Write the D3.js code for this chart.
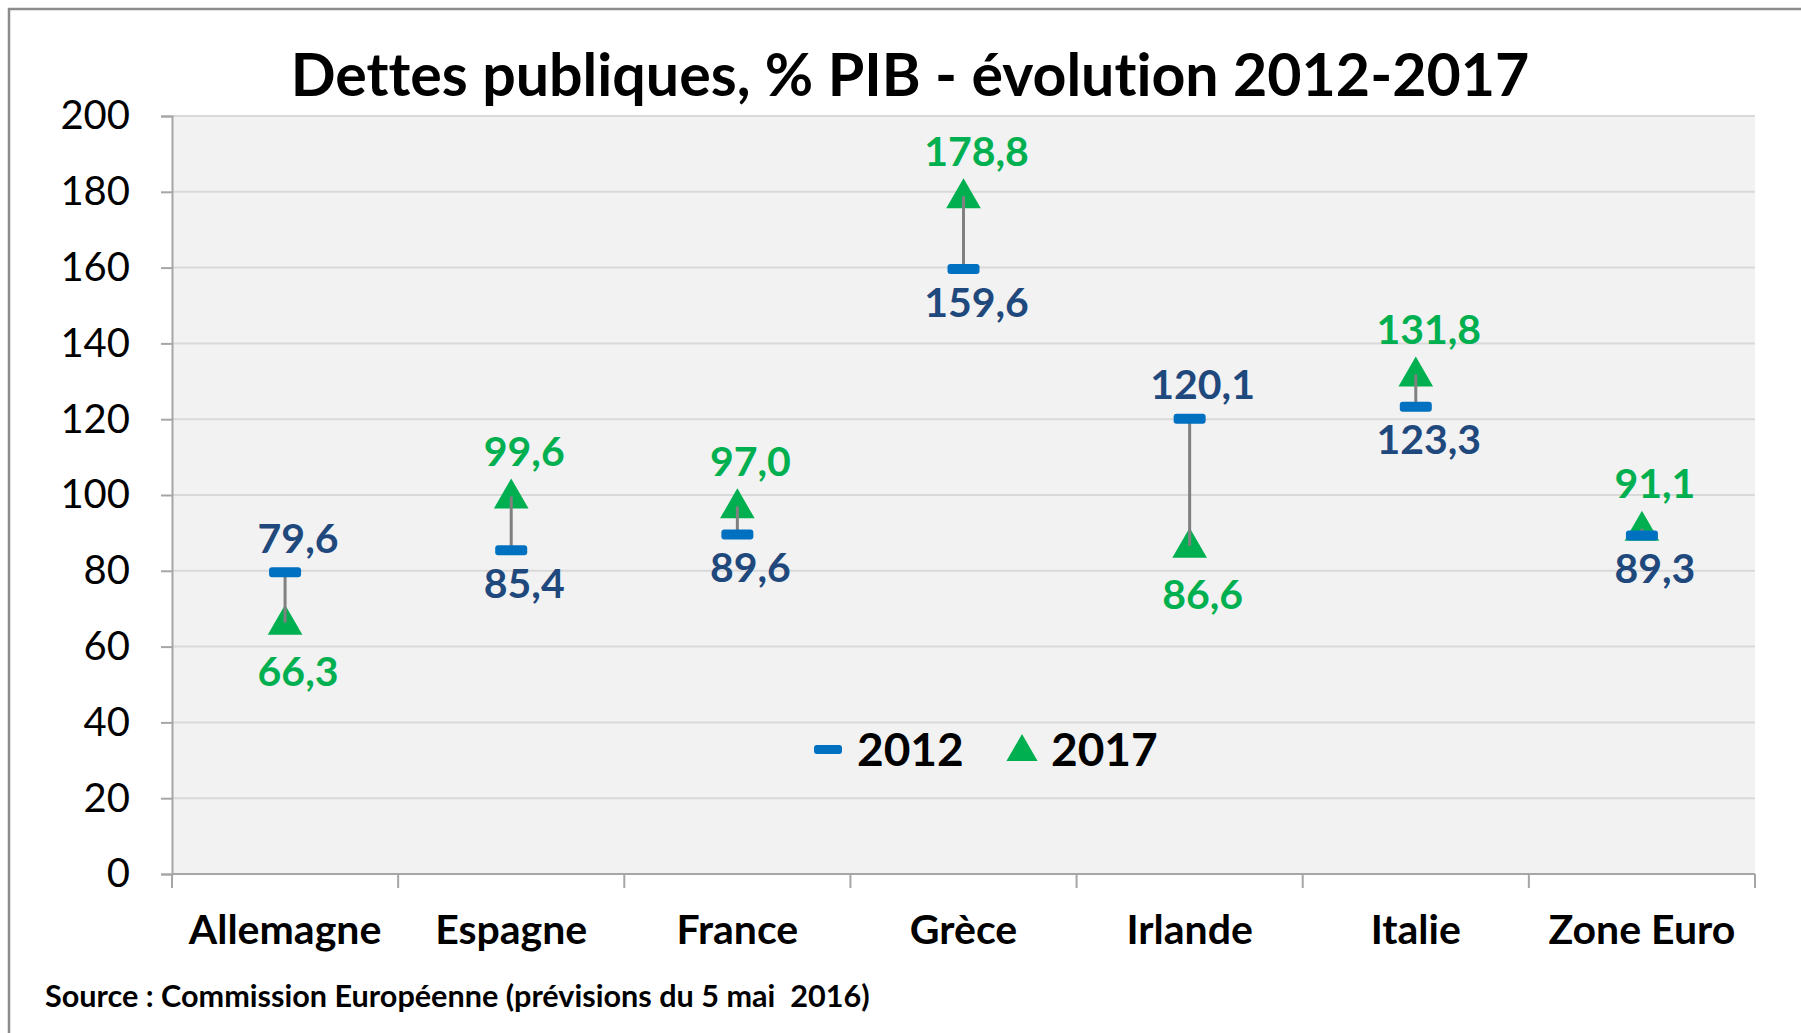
<!DOCTYPE html>
<html>
<head>
<meta charset="utf-8">
<script src="https://cdn.jsdelivr.net/npm/d3@7"></script>
<style>
  body { margin: 0; background: #fff; }
  svg { display: block; font-family: Lato, "Open Sans", sans-serif; font-variant-ligatures: none; }
</style>
</head>
<body>
<svg id="chart"></svg>
<script>
// data
const categories = ['Allemagne', 'Espagne', 'France', 'Grèce', 'Irlande', 'Italie', 'Zone Euro'];
const debt2012 = [79.6, 85.4, 89.6, 159.6, 120.1, 123.3, 89.3];
const debt2017 = [66.3, 99.6, 97.0, 178.8, 86.6, 131.8, 91.1];
const seriesNames = ['2012', '2017'];
const yTicks = [0, 20, 40, 60, 80, 100, 120, 140, 160, 180, 200];
const titleText = 'Dettes publiques, % PIB - évolution 2012-2017';
const sourceText = 'Source : Commission Européenne (prévisions du 5 mai  2016)';

const W = 1801, H = 1033;
const plot = { left: 172, right: 1755, top: 116, bottom: 874 };

const blue = '#0070c0', navy = '#1f497d', green = '#00b050';

const svg = d3.select('#chart').attr('width', W).attr('height', H);

// outer frame (right and bottom edges fall outside the picture)
svg.append('rect')
  .attr('x', 9).attr('y', 9).attr('width', W + 20).attr('height', H + 20)
  .attr('fill', '#fff').attr('stroke', '#8c8c8c').attr('stroke-width', 2.5);

const x = d3.scaleBand().domain(categories).range([plot.left, plot.right]);
const y = d3.scaleLinear().domain([0, 200]).range([plot.bottom, plot.top]);

const fr = d3.formatLocale({ decimal: ',', thousands: ' ', grouping: [3], currency: ['', ''] });
const fmt = fr.format('.1f');

// plot background
svg.append('rect')
  .attr('x', plot.left).attr('y', plot.top)
  .attr('width', plot.right - plot.left).attr('height', plot.bottom - plot.top)
  .attr('fill', '#f2f2f2');

// gridlines
svg.append('g')
  .selectAll('line')
  .data(yTicks.filter(d => d > 0))
  .join('line')
  .attr('x1', plot.left).attr('x2', plot.right)
  .attr('y1', d => y(d)).attr('y2', d => y(d))
  .attr('stroke', '#d9d9d9').attr('stroke-width', 2);

// y axis
const yAxis = svg.append('g')
  .attr('transform', `translate(${plot.left},0)`)
  .call(d3.axisLeft(y).tickValues(yTicks).tickSize(11).tickPadding(31).tickFormat(d3.format('d')));
yAxis.select('.domain').attr('stroke', '#a6a6a6').attr('stroke-width', 2);
yAxis.selectAll('.tick line').attr('stroke', '#a6a6a6').attr('stroke-width', 2);
yAxis.selectAll('.tick text')
  .attr('font-family', 'Lato, "Open Sans", sans-serif')
  .attr('font-size', 40).attr('fill', '#000');

// x axis line + ticks at category boundaries
svg.append('line')
  .attr('x1', plot.left).attr('x2', plot.right)
  .attr('y1', plot.bottom).attr('y2', plot.bottom)
  .attr('stroke', '#a6a6a6').attr('stroke-width', 2);
const bounds = categories.map(c => x(c)).concat([x(categories[categories.length - 1]) + x.bandwidth()]);
svg.append('g')
  .selectAll('line')
  .data(bounds)
  .join('line')
  .attr('x1', d => d).attr('x2', d => d)
  .attr('y1', plot.bottom).attr('y2', plot.bottom + 14)
  .attr('stroke', '#a6a6a6').attr('stroke-width', 2);

// category labels
svg.append('g')
  .selectAll('text')
  .data(categories)
  .join('text')
  .attr('x', d => x(d) + x.bandwidth() / 2)
  .attr('y', 944)
  .attr('text-anchor', 'middle')
  .attr('font-size', 41).attr('font-weight', 700).attr('fill', '#000')
  .text(d => d);

// legend (masks the gridline behind it)
const legend = svg.append('g');
legend.append('rect')
  .attr('x', 767).attr('y', 726).attr('width', 416).attr('height', 62)
  .attr('fill', '#f2f2f2');

const rows = categories.map((c, i) => ({ c, a: debt2012[i], b: debt2017[i] }));
const tri = d3.symbol().type(d3.symbolTriangle).size(520);

// 2017 triangles
svg.append('g')
  .selectAll('path')
  .data(rows)
  .join('path')
  .attr('d', tri)
  .attr('transform', d => `translate(${x(d.c) + x.bandwidth() / 2},${y(d.b) + 2})`)
  .attr('fill', green);

// high-low lines
svg.append('g')
  .selectAll('line')
  .data(rows)
  .join('line')
  .attr('x1', d => x(d.c) + x.bandwidth() / 2).attr('x2', d => x(d.c) + x.bandwidth() / 2)
  .attr('y1', d => y(d.a)).attr('y2', d => y(d.b))
  .attr('stroke', '#808080').attr('stroke-width', 3);

// 2012 dashes
svg.append('g')
  .selectAll('rect')
  .data(rows)
  .join('rect')
  .attr('x', d => x(d.c) + x.bandwidth() / 2 - 16)
  .attr('y', d => y(d.a) - 5)
  .attr('width', 32).attr('height', 10).attr('rx', 3)
  .attr('fill', blue);

// data labels: the larger value of a pair goes above, the smaller below
const dx = 13;
svg.append('g')
  .selectAll('text')
  .data(rows)
  .join('text')
  .attr('x', d => x(d.c) + x.bandwidth() / 2 + dx)
  .attr('y', d => d.a >= d.b ? y(d.a) - 35 : y(d.a) + 32)
  .attr('dominant-baseline', 'central')
  .attr('text-anchor', 'middle')
  .attr('font-size', 41).attr('font-weight', 700).attr('fill', navy)
  .text(d => fmt(d.a));

svg.append('g')
  .selectAll('text')
  .data(rows)
  .join('text')
  .attr('x', d => x(d.c) + x.bandwidth() / 2 + dx)
  .attr('y', d => d.b > d.a ? y(d.b) - 46 : y(d.b) + 48)
  .attr('dominant-baseline', 'central')
  .attr('text-anchor', 'middle')
  .attr('font-size', 41).attr('font-weight', 700).attr('fill', green)
  .text(d => fmt(d.b));

// legend entries
legend.append('rect')
  .attr('x', 814).attr('y', 745).attr('width', 28).attr('height', 9).attr('rx', 3)
  .attr('fill', blue);
legend.append('text')
  .attr('x', 857).attr('y', 766)
  .attr('font-size', 46).attr('font-weight', 700).attr('fill', '#000')
  .text(seriesNames[0]);
legend.append('path')
  .attr('d', d3.symbol().type(d3.symbolTriangle).size(420))
  .attr('transform', 'translate(1022,752)')
  .attr('fill', green);
legend.append('text')
  .attr('x', 1051).attr('y', 766)
  .attr('font-size', 46).attr('font-weight', 700).attr('fill', '#000')
  .text(seriesNames[1]);

// fit a text node to a target width by scaling its font size
function fitWidth(node, target) {
  const s = +node.getAttribute('font-size');
  const w = node.getComputedTextLength();
  node.setAttribute('font-size', (s * target / w).toFixed(1));
}

const title = svg.append('text')
  .attr('x', 910).attr('y', 96)
  .attr('text-anchor', 'middle')
  .attr('font-size', 60).attr('font-weight', 700).attr('fill', '#000')
  .text(titleText);
fitWidth(title.node(), 1238);

const source = svg.append('text')
  .attr('x', 45).attr('y', 1007)
  .attr('font-size', 28).attr('font-weight', 700).attr('fill', '#000')
  .attr('xml:space', 'preserve')
  .style('white-space', 'pre')
  .text(sourceText);
fitWidth(source.node(), 824);
</script>
</body>
</html>
